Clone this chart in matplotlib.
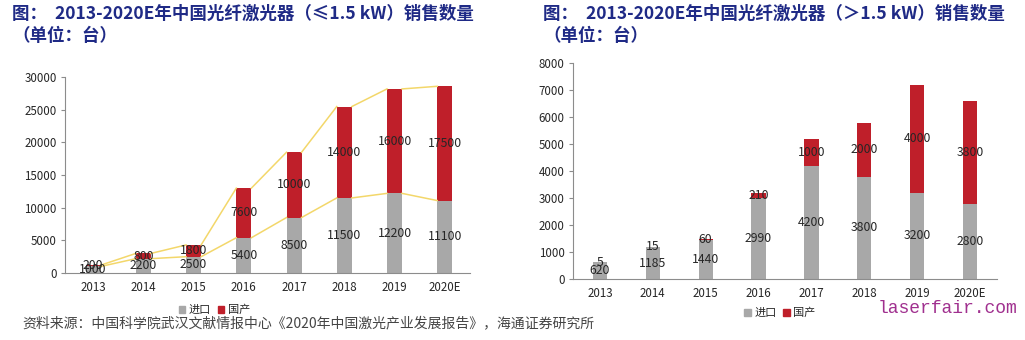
import numpy as np
import matplotlib
matplotlib.use("Agg")
import matplotlib.pyplot as plt
from matplotlib.patches import Patch

plt.rcParams['font.family'] = ['Noto Sans CJK SC', 'DejaVu Sans']

years = ['2013', '2014', '2015', '2016', '2017', '2018', '2019', '2020E']

# <=1.5 kW
low_import = [1000, 2200, 2500, 5400, 8500, 11500, 12200, 11100]
low_domestic = [200, 800, 1800, 7600, 10000, 14000, 16000, 17500]

# >1.5 kW
high_import = [620, 1185, 1440, 2990, 4200, 3800, 3200, 2800]
high_domestic = [5, 15, 60, 210, 1000, 2000, 4000, 3800]

series_names = ['进口', '国产']
title_low = '图：  2013-2020E年中国光纤激光器（≤1.5 kW）销售数量\n（单位：台）'
title_high = '图：  2013-2020E年中国光纤激光器（＞1.5 kW）销售数量\n（单位：台）'
source = '资料来源：中国科学院武汉文献情报中心《2020年中国激光产业发展报告》，海通证券研究所'

GRAY = '#a8a8a8'
RED = '#bf1f2a'
YELLOW = '#f3d76a'
NAVY = '#1f2a86'
TXT = '#262626'


def stacked(ax, imp, dom, width, ymax, step, series_lines=False):
    x = np.arange(len(years))
    imp = np.array(imp)
    dom = np.array(dom)
    ax.bar(x, imp, width, color=GRAY, zorder=2)
    ax.bar(x, dom, width, bottom=imp, color=RED, zorder=2)
    for i in x:
        ax.text(i, imp[i] / 2, str(imp[i]), ha='center', va='center',
                fontsize=8.8, color=TXT, zorder=4)
        ax.text(i, imp[i] + dom[i] / 2, str(dom[i]), ha='center', va='center',
                fontsize=8.8, color=TXT, zorder=4)
    if series_lines:
        for tops in (imp, imp + dom):
            for i in range(len(x) - 1):
                ax.plot([x[i] + width / 2, x[i + 1] - width / 2],
                        [tops[i], tops[i + 1]], color=YELLOW, lw=1.1, zorder=3)
    ax.set_ylim(0, ymax)
    ax.set_yticks(np.arange(0, ymax + 1, step))
    ax.set_xticks(x)
    ax.set_xticklabels(years)
    for s in ('top', 'right'):
        ax.spines[s].set_visible(False)
    for s in ('left', 'bottom'):
        ax.spines[s].set_color('#8c8c8c')
        ax.spines[s].set_linewidth(0.8)
    ax.tick_params(axis='y', length=3, color='#8c8c8c', labelsize=8.3,
                   labelcolor=TXT, pad=3)
    ax.tick_params(axis='x', length=0, labelsize=8.3, labelcolor=TXT, pad=6)


fig = plt.figure(figsize=(10.25, 3.4), dpi=100)

ax1 = fig.add_axes([0.0634, 0.197, 0.395, 0.576])
stacked(ax1, low_import, low_domestic, 0.3, 30000, 5000, series_lines=True)
ax1.set_xlim(-0.56, 7.5)

ax2 = fig.add_axes([0.559, 0.179, 0.4137, 0.635])
stacked(ax2, high_import, high_domestic, 0.27, 8000, 1000)
ax2.set_xlim(-0.51, 7.51)

fig.text(0.012, 0.985, title_low, ha='left', va='top', fontsize=12.6,
         fontweight='bold', color=NAVY, linespacing=1.3)
fig.text(0.530, 0.985, title_high, ha='left', va='top', fontsize=12.6,
         fontweight='bold', color=NAVY, linespacing=1.3)

handles = [Patch(color=GRAY), Patch(color=RED)]
for cx, cy in ((0.209, 0.088), (0.761, 0.079)):
    fig.legend(handles, series_names, loc='center', bbox_to_anchor=(cx, cy),
               ncol=2, frameon=False, fontsize=8, handlelength=0.6,
               handleheight=0.6, handletextpad=0.3, columnspacing=0.6,
               labelcolor=TXT, borderpad=0.1)

fig.text(0.022, 0.049, source, ha='left', va='center', fontsize=10,
         color='#444444')
fig.text(0.993, 0.094, 'laserfair.com', ha='right', va='center', fontsize=13,
         family='Liberation Mono', color='#a0308f')

fig.savefig('out.png', dpi=100)
